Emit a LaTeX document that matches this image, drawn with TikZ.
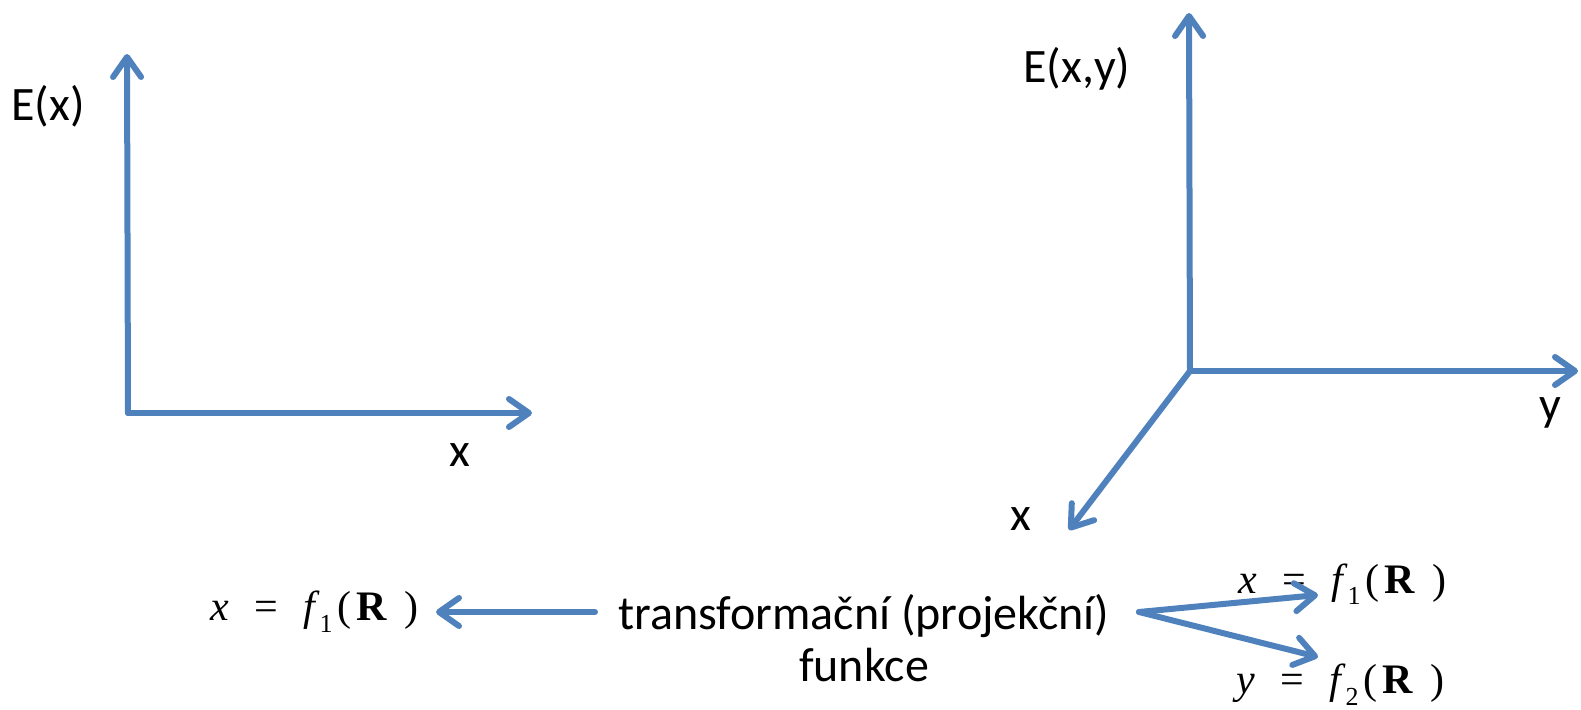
\documentclass[tikz,border=0pt]{standalone}
\usepackage{fontspec}
\setmainfont{Carlito}
\newfontfamily\eqf{Liberation Serif}
\usetikzlibrary{arrows.meta}
\definecolor{axblue}{RGB}{79,129,189}
\newcommand{\myeq}[2]{{\eqf\fontsize{21}{25}\selectfont\textit{#1}\hspace{0.6em}=\hspace{0.6em}\textit{f}\raisebox{-0.6ex}{\fontsize{13}{13}\selectfont #2}\hspace{0.12em}(\hspace{0.12em}\textbf{R}\hspace{0.4em})}}
\tikzset{
  axis/.style={draw=axblue, line width=3pt, line cap=round, line join=round,
    -{Straight Barb[length=10pt,width=14pt,line cap=round,line join=round]}},
  lbl/.style={inner sep=0pt, font=\fontsize{24}{29}\selectfont},
  eqn/.style={inner sep=0pt}
}
\begin{document}
\begin{tikzpicture}[x=0.5pt,y=-0.5pt]
\useasboundingbox (0,0) rectangle (1581,710);
% left axes
\coordinate (LO) at (128,413);
\coordinate (LT) at (127,54);
\coordinate (LX) at (532,413);
\draw[axis] (LO) -- (LT);
\draw[axis] (LO) -- (LX);
\node[lbl, anchor=west] (LE) at (11,106) {E(x)};
\node[lbl] (Lx) at (460,455) {x};
% right axes
\coordinate (RO) at (1190,371);
\coordinate (RT) at (1189,13);
\coordinate (RY) at (1578,371);
\coordinate (RX) at (1069,530);
\draw[axis] (RO) -- (RT);
\draw[axis] (RO) -- (RY);
\draw[axis] (RO) -- (RX);
\node[lbl, anchor=west] (RE) at (1023,69) {E(x,y)};
\node[lbl] (Ry) at (1550,413) {y};
\node[lbl] (Rx) at (1021,519) {x};
% bottom
\node[lbl, align=center] (tf) at (864,638) {transformační (projekční)\\[-3pt]funkce};
\node[eqn, anchor=west] (eqL) at (210,612) {\myeq{x}{1}};
\node[eqn, anchor=west] (eqR1) at (1238,584) {\myeq{x}{1}};
\node[eqn, anchor=west] (eqR2) at (1236,685) {\myeq{y}{2}};
\coordinate (aL0) at (595,612);
\coordinate (aL1) at (436,612);
\draw[axis] (aL0) -- (aL1);
\coordinate (aR0) at (1139,612);
\coordinate (aR1) at (1318,595);
\coordinate (aR2) at (1318,657);
\draw[axis] (aR0) -- (aR1);
\draw[axis] (aR0) -- (aR2);
\end{tikzpicture}
\end{document}
